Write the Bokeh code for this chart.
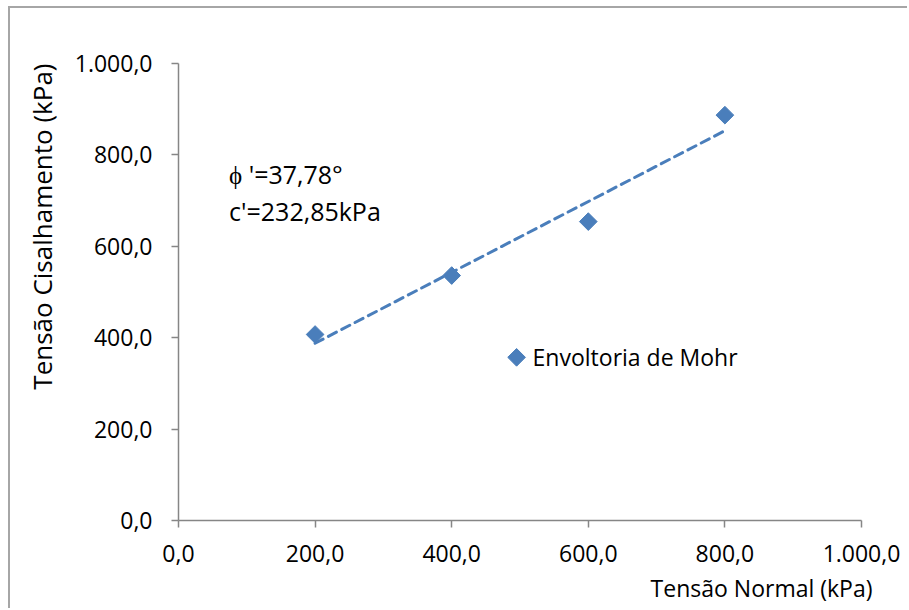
import math
from bokeh.plotting import figure
from bokeh.models import Range1d, FixedTicker, Label, Title
from bokeh.embed import file_html
from bokeh.resources import INLINE

# ---- data ----
normal_stress = [200, 400, 600, 800]          # Tensão Normal (kPa)
shear_stress = [407, 536, 654, 887]           # Tensão Cisalhamento (kPa)
phi_deg = 37.78                               # friction angle
c_kpa = 232.85                                # cohesion
trend_x = [200, 800]
tick_values = [0, 200, 400, 600, 800, 1000]
tick_labels = ["0,0", "200,0", "400,0", "600,0", "800,0", "1.000,0"]
series_name = "Envoltoria de Mohr"
x_title = "Tensão Normal (kPa)"
y_title = "Tensão Cisalhamento (kPa)"
note_lines = ["\u03d5 '=37,78°", "c'=232,85kPa"]

trend_y = [c_kpa + math.tan(math.radians(phi_deg)) * x for x in trend_x]

# ---- layout / style ----
FONT = "Open Sans"
BLUE = "#4A7EBB"
AXIS = "#868686"
LEGEND_ANCHOR = (495, 357)      # where the legend key sits (plot coords)
NOTE_ANCHOR = (74, 758, 677)    # x, first baseline, second baseline

p = figure(width=899, height=602,
           x_range=Range1d(0, 1000), y_range=Range1d(0, 1000),
           output_backend="svg", toolbar_location=None,
           min_border_left=168, min_border_right=48,
           min_border_top=55, min_border_bottom=90)
p.margin = (6, 0, 0, 8)
p.styles = {"border-top": "2px solid #a6a6a6", "border-left": "2px solid #a6a6a6"}
p.outline_line_color = None
p.xgrid.visible = False
p.ygrid.visible = False
p.background_fill_color = "white"
p.border_fill_color = "white"

for ax in (p.xaxis[0], p.yaxis[0]):
    ax.ticker = FixedTicker(ticks=tick_values)
    ax.major_label_overrides = {v: s for v, s in zip(tick_values, tick_labels)}
    ax.major_label_text_font = FONT
    ax.major_label_text_font_size = "23px"
    ax.major_label_text_color = "black"
    ax.axis_line_color = AXIS
    ax.axis_line_width = 1.5
    ax.major_tick_line_color = AXIS
    ax.major_tick_line_width = 1.5
    ax.major_tick_out = 7
    ax.major_tick_in = 0
    ax.minor_tick_out = 0
    ax.minor_tick_in = 0
p.xaxis.major_label_standoff = 17
p.yaxis.major_label_standoff = 19

p.line(trend_x, trend_y, line_color=BLUE, line_width=3,
       line_dash="9 6", line_cap="round")
p.scatter(normal_stress, shear_stress, marker="square", size=12.5,
          angle=math.pi / 4, fill_color=BLUE, line_color=BLUE)

# legend (key drawn as the same rotated square as the points)
p.scatter([LEGEND_ANCHOR[0]], [LEGEND_ANCHOR[1]], marker="square", size=12.5,
          angle=math.pi / 4, fill_color=BLUE, line_color=BLUE)
p.add_layout(Label(x=LEGEND_ANCHOR[0], y=LEGEND_ANCHOR[1], x_offset=16,
                   text=series_name, text_align="left", text_baseline="middle",
                   text_font=FONT, text_font_size="23px", text_color="black"))

p.add_layout(Title(text=x_title, align="right", offset=-11, standoff=11,
                   text_font=FONT, text_font_size="23px",
                   text_font_style="normal", text_color="black"), "below")
p.add_layout(Title(text=y_title, align="right", offset=0, standoff=23,
                   text_font=FONT, text_font_size="26px",
                   text_font_style="normal", text_color="black"), "left")

p.add_layout(Label(x=NOTE_ANCHOR[0], y=NOTE_ANCHOR[1], text=note_lines[0],
                   text_align="left", text_baseline="alphabetic", text_font=FONT,
                   text_font_size="25px", text_color="black"))
p.add_layout(Label(x=NOTE_ANCHOR[0], y=NOTE_ANCHOR[2], text=note_lines[1],
                   text_align="left", text_baseline="alphabetic", text_font=FONT,
                   text_font_size="25px", text_color="black"))

open("out.html", "w").write(file_html(p, INLINE))
